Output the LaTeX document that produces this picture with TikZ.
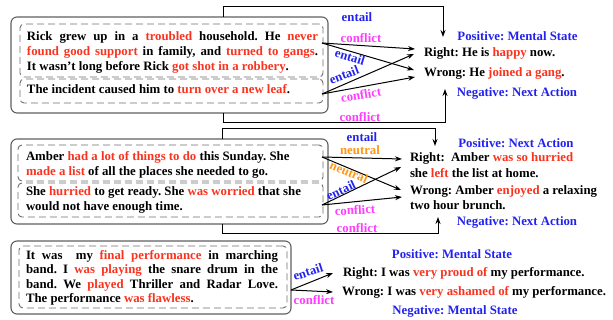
\documentclass[tikz,border=0pt]{standalone}
\usepackage{fontspec}
\setmainfont{Liberation Serif}
\usetikzlibrary{arrows.meta}
\definecolor{myred}{RGB}{250,50,30}
\definecolor{myblue}{RGB}{34,34,238}
\definecolor{mymag}{RGB}{255,60,255}
\definecolor{myorange}{RGB}{255,150,20}
\definecolor{boxgray}{RGB}{95,95,95}
\definecolor{dashgray}{RGB}{110,110,110}
\newcommand{\rd}[1]{\textcolor{myred}{#1}}
\frenchspacing
\begin{document}
\begin{tikzpicture}[x=1pt,y=-1pt,
  font=\fontsize{12.8}{15}\selectfont\bfseries,
  outerbox/.style={draw=boxgray, line width=1.1pt, rounded corners=6pt, inner sep=0, outer sep=0, anchor=north west},
  dashbox/.style={draw=dashgray, line width=0.9pt, dash pattern=on 7pt off 4pt, rounded corners=4pt, inner sep=0, outer sep=0, anchor=north west},
  txt/.style={anchor=base west, inner sep=0, outer sep=0},
  head/.style={anchor=base, inner sep=0, outer sep=0, text=myblue},
  lbl/.style={inner sep=0, outer sep=0},
  ent/.style={lbl, text=myblue},
  con/.style={lbl, text=mymag},
  neu/.style={lbl, text=myorange},
  conn/.style={draw=black, line width=1pt, -{Stealth[length=7pt,width=5pt]}},
  brk/.style={draw=black, line width=1pt, -{Stealth[length=7pt,width=5pt]}}
]
\useasboundingbox (0,0) rectangle (613,320);

% ---------------- Panel 1 ----------------
\node[outerbox, minimum width=317pt, minimum height=96pt] (o1) at (11,17) {};
\node[dashbox, minimum width=303pt, minimum height=53pt] (d1a) at (20,24) {};
\node[dashbox, minimum width=303pt, minimum height=24pt] (d1b) at (20,79) {};
\node[txt] (t11) at (27,41) {\makebox[291pt][s]{Rick grew up in a \rd{troubled} household. He \rd{never}}};
\node[txt] (t12) at (27,56) {\makebox[291pt][s]{\rd{found good support} in family, and \rd{turned to gangs}.}};
\node[txt] (t13) at (27,71) {It wasn\symbol{39}t long before Rick \rd{got shot in a robbery}.};
\node[txt] (t14) at (27,94) {The incident caused him to \rd{turn over a new leaf}.};

\node[head] (h1p) at (517.5,40.5) {Positive: Mental State};
\node[head] (h1n) at (517,96.5) {Negative: Next Action};
\node[txt] (r1) at (424,57) {Right: He is \rd{happy} now.};
\node[txt] (w1) at (424,76.5) {Wrong: He \rd{joined a gang}.};

\coordinate (s1a) at (322,43);
\coordinate (s1b) at (322,94);
\coordinate (e1r1) at (415,49);
\coordinate (e1r2) at (414,54);
\coordinate (e1w1) at (414,70);
\coordinate (e1w2) at (415,77);
\draw[conn] (s1a) -- (e1r1);
\draw[conn] (s1a) -- (e1w1);
\draw[conn] (s1b) -- (e1r2);
\draw[conn] (s1b) -- (e1w2);

\coordinate (b1t) at (223,17);
\coordinate (b1tu) at (223,7);
\coordinate (b1tr) at (443,7);
\coordinate (b1te) at (443,37);
\draw[brk] (b1t) -- (b1tu) -- (b1tr) -- (b1te);
\coordinate (b1b) at (223,113);
\coordinate (b1bd) at (223,123);
\coordinate (b1br) at (445,123);
\coordinate (b1be) at (445,89);
\draw[brk] (b1b) -- (b1bd) -- (b1br) -- (b1be);

\node[ent] (l1a) at (357,17) {entail};
\node[con] (l1b) at (361,38) {conflict};
\node[ent, rotate=-17] (l1c) at (350,57) {entail};
\node[ent, rotate=21] (l1d) at (344,75) {entail};
\node[con, rotate=9] (l1e) at (361,95) {conflict};
\node[con] (l1f) at (360,117) {conflict};

% ---------------- Panel 2 ----------------
\node[outerbox, minimum width=317pt, minimum height=85pt] (o2) at (11,139) {};
\node[dashbox, minimum width=305pt, minimum height=36pt] (d2a) at (18,145) {};
\node[dashbox, minimum width=305pt, minimum height=34pt] (d2b) at (18,183) {};
\node[txt] (t21) at (26,161) {Amber \rd{had a lot of things to do} this Sunday. She};
\node[txt] (t22) at (26,176) {\rd{made a list} of all the places she needed to go.};
\node[txt] (t23) at (26,196) {She \rd{hurried} to get ready. She \rd{was worried} that she};
\node[txt] (t24) at (26,211) {would not have enough time.};

\node[head] (h2p) at (516,148) {Positive: Next Action};
\node[head] (h2n) at (517,226) {Negative: Next Action};
\node[txt] (r2a) at (410,162) {Right:\ \ Amber \rd{was so hurried}};
\node[txt] (r2b) at (410,177.5) {she \rd{left} the list at home.};
\node[txt] (w2a) at (410,194.5) {Wrong: Amber \rd{enjoyed} a relaxing};
\node[txt] (w2b) at (410,210) {two hour brunch.};

\coordinate (s2a) at (322,157);
\coordinate (s2b) at (322,205);
\coordinate (e2r1) at (402,159);
\coordinate (e2r2) at (401,167);
\coordinate (e2w1) at (401,190);
\coordinate (e2w2) at (402,197);
\draw[conn] (s2a) -- (e2r1);
\draw[conn] (s2a) -- (e2w1);
\draw[conn] (s2b) -- (e2r2);
\draw[conn] (s2b) -- (e2w2);

\coordinate (b2t) at (222,139);
\coordinate (b2tu) at (222,129);
\coordinate (b2tr) at (435,129);
\coordinate (b2te) at (435,146);
\draw[brk] (b2t) -- (b2tu) -- (b2tr) -- (b2te);
\coordinate (b2b) at (222,224);
\coordinate (b2bd) at (222,234);
\coordinate (b2br) at (438,234);
\coordinate (b2be) at (438,217);
\draw[brk] (b2b) -- (b2bd) -- (b2br) -- (b2be);

\node[ent] (l2a) at (362,137) {entail};
\node[neu] (l2b) at (360,150) {neutral};
\node[neu, rotate=-23] (l2c) at (349,172) {neutral};
\node[ent, rotate=25] (l2d) at (341,190) {entail};
\node[con, rotate=3] (l2e) at (355,210) {conflict};
\node[con] (l2f) at (357,228) {conflict};

% ---------------- Panel 3 ----------------
\node[outerbox, minimum width=280pt, minimum height=73pt] (o3) at (11,241) {};
\node[dashbox, minimum width=268pt, minimum height=62pt] (d3) at (19,246) {};
\node[txt] (t31) at (26,259.5) {\makebox[252pt][s]{It was\ \ my \rd{final performance} in marching}};
\node[txt] (t32) at (26,274) {\makebox[252pt][s]{band. I \rd{was playing} the snare drum in the}};
\node[txt] (t33) at (26,288.5) {\makebox[252pt][s]{band. We \rd{played} Thriller and Radar Love.}};
\node[txt] (t34) at (26,303) {The performance \rd{was flawless}.};

\node[head] (h3p) at (452,259) {Positive: Mental State};
\node[head] (h3n) at (455,315) {Negative: Mental State};
\node[txt] (r3) at (343,277) {Right: I was \rd{very proud of} my performance.};
\node[txt] (w3) at (342,296) {Wrong: I was \rd{very ashamed of} my performance.};

\coordinate (s3) at (291,290);
\coordinate (e3r) at (333,273);
\coordinate (e3w) at (333,292);
\draw[conn] (s3) -- (e3r);
\draw[conn] (s3) -- (e3w);

\node[ent, rotate=18] (l3a) at (308,272) {entail};
\node[con] (l3b) at (314,300) {conflict};
\end{tikzpicture}
\end{document}
